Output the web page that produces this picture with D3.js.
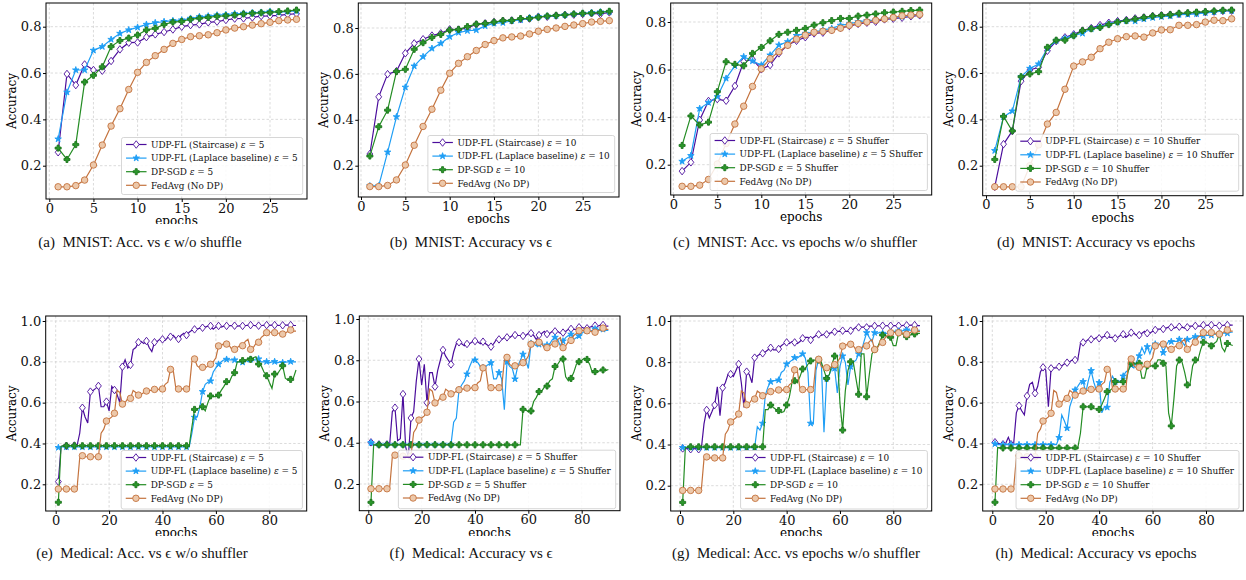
<!DOCTYPE html>
<html>
<head>
<meta charset="utf-8">
<script src="https://cdn.jsdelivr.net/npm/d3@7"></script>
<style>
  body { margin: 0; background: #fff; }
  svg { display: block; }
</style>
</head>
<body>
<svg id="chart" width="1246" height="580"></svg>
<script>
const mnistEpochs = d3.range(1, 29);
const medicalEpochs = d3.range(1, 91);

const mnistXTicks = [0, 5, 10, 15, 20, 25];
const medicalXTicks = [0, 20, 40, 60, 80];
const mnistYTicks = [0.2, 0.4, 0.6, 0.8];
const medicalYTicks = [0.2, 0.4, 0.6, 0.8, 1.0];

// MNIST, eps = 5, no shuffler
const stairA = [0.258,0.596,0.548,0.637,0.613,0.61,0.652,0.702,0.731,0.732,0.755,0.767,0.777,0.788,0.8,0.807,0.81,0.819,0.822,0.829,0.835,0.836,0.84,0.846,0.847,0.849,0.853,0.856];
const laplaceA = [0.315,0.517,0.613,0.613,0.698,0.714,0.745,0.771,0.786,0.797,0.81,0.817,0.822,0.826,0.829,0.836,0.843,0.846,0.85,0.852,0.856,0.858,0.86,0.862,0.866,0.862,0.866,0.868];
const sgdA = [0.276,0.227,0.291,0.561,0.59,0.627,0.714,0.74,0.751,0.764,0.786,0.793,0.81,0.82,0.823,0.832,0.837,0.84,0.845,0.847,0.85,0.855,0.858,0.86,0.862,0.865,0.868,0.872];
const fedMnist = [0.109,0.109,0.114,0.138,0.203,0.289,0.371,0.446,0.529,0.603,0.646,0.675,0.702,0.728,0.745,0.757,0.761,0.765,0.774,0.786,0.794,0.8,0.807,0.813,0.819,0.826,0.829,0.832];

// MNIST, eps = 10
const stairB = [0.251,0.5,0.599,0.612,0.69,0.733,0.751,0.767,0.777,0.794,0.793,0.8,0.815,0.82,0.826,0.831,0.833,0.838,0.841,0.849,0.849,0.854,0.857,0.858,0.861,0.864,0.861,0.868];
const laplaceB = [0.112,0.112,0.259,0.413,0.542,0.634,0.675,0.711,0.733,0.762,0.78,0.788,0.791,0.809,0.82,0.823,0.832,0.835,0.844,0.849,0.852,0.854,0.857,0.861,0.864,0.867,0.87,0.871];
const sgdB = [0.242,0.37,0.442,0.61,0.62,0.707,0.736,0.759,0.772,0.791,0.794,0.806,0.817,0.82,0.826,0.832,0.833,0.841,0.842,0.847,0.852,0.855,0.857,0.861,0.864,0.865,0.868,0.873];

// MNIST, eps = 5, shuffler
const stairC = [0.173,0.21,0.388,0.468,0.476,0.469,0.531,0.633,0.643,0.601,0.619,0.668,0.703,0.721,0.736,0.752,0.755,0.766,0.775,0.783,0.792,0.797,0.801,0.811,0.814,0.818,0.824,0.828];
const laplaceC = [0.214,0.238,0.436,0.461,0.486,0.563,0.615,0.654,0.636,0.619,0.661,0.703,0.717,0.743,0.752,0.758,0.766,0.773,0.786,0.792,0.801,0.806,0.808,0.814,0.818,0.822,0.828,0.832];
const sgdC = [0.281,0.405,0.367,0.379,0.507,0.633,0.622,0.616,0.668,0.693,0.721,0.748,0.757,0.765,0.773,0.787,0.797,0.806,0.815,0.815,0.825,0.829,0.834,0.839,0.842,0.845,0.848,0.85];

// MNIST, eps = 10, shuffler
const stairD = [0.109,0.293,0.35,0.565,0.613,0.625,0.696,0.738,0.754,0.767,0.783,0.794,0.807,0.817,0.824,0.829,0.836,0.84,0.846,0.849,0.852,0.855,0.858,0.86,0.863,0.865,0.868,0.869];
const laplaceD = [0.265,0.411,0.436,0.584,0.62,0.639,0.706,0.74,0.75,0.764,0.771,0.791,0.8,0.812,0.82,0.826,0.824,0.833,0.839,0.843,0.846,0.852,0.853,0.855,0.86,0.863,0.868,0.869];
const sgdD = [0.227,0.413,0.35,0.584,0.596,0.606,0.711,0.742,0.742,0.761,0.783,0.791,0.797,0.809,0.82,0.826,0.833,0.84,0.846,0.849,0.852,0.858,0.86,0.863,0.865,0.868,0.871,0.872];
const fedMnistD = [0.109,0.109,0.109,0.109,0.2,0.29,0.38,0.43,0.53,0.63,0.648,0.668,0.705,0.733,0.748,0.757,0.76,0.755,0.773,0.786,0.787,0.806,0.806,0.809,0.82,0.828,0.826,0.834];

// Medical, eps = 5, no shuffler
const stairE = [0.213,0.385,0.39,0.388,0.39,0.39,0.39,0.39,0.45,0.575,
  0.53,0.5,0.654,0.66,0.67,0.682,0.58,0.58,0.605,0.56,
  0.68,0.662,0.64,0.6,0.776,0.81,0.77,0.785,0.86,0.87,
  0.896,0.9,0.89,0.902,0.87,0.85,0.896,0.9,0.91,0.91,
  0.905,0.92,0.923,0.93,0.915,0.912,0.93,0.94,0.931,0.945,
  0.955,0.959,0.96,0.965,0.967,0.97,0.975,0.976,0.96,0.97,
  0.976,0.97,0.975,0.976,0.977,0.978,0.977,0.975,0.976,0.976,
  0.978,0.979,0.98,0.978,0.977,0.977,0.978,0.979,0.98,0.979,
  0.98,0.98,0.979,0.978,0.979,0.98,0.98,0.98,0.978,0.978];
const laplaceE = [0.38,0.383,0.383,0.383,0.383,0.383,0.383,0.383,0.383,0.383,
  0.383,0.383,0.383,0.383,0.383,0.383,0.383,0.383,0.383,0.383,
  0.383,0.383,0.383,0.383,0.383,0.383,0.383,0.383,0.383,0.383,
  0.383,0.383,0.383,0.383,0.383,0.383,0.383,0.383,0.383,0.383,
  0.383,0.383,0.383,0.383,0.383,0.383,0.383,0.383,0.383,0.383,
  0.45,0.528,0.53,0.58,0.654,0.69,0.7,0.706,0.75,0.77,
  0.788,0.8,0.81,0.812,0.81,0.81,0.809,0.8,0.8,0.798,
  0.81,0.8,0.812,0.81,0.81,0.814,0.8,0.8,0.801,0.795,
  0.8,0.801,0.795,0.8,0.796,0.798,0.8,0.801,0.8,0.8];
const sgdE = [0.112,0.385,0.389,0.389,0.389,0.389,0.389,0.389,0.389,0.389,
  0.389,0.389,0.389,0.389,0.389,0.389,0.389,0.389,0.389,0.389,
  0.389,0.389,0.389,0.389,0.389,0.389,0.389,0.389,0.389,0.389,
  0.389,0.389,0.389,0.389,0.389,0.389,0.389,0.389,0.389,0.389,
  0.389,0.389,0.389,0.389,0.389,0.389,0.389,0.389,0.389,0.389,
  0.48,0.567,0.57,0.575,0.58,0.56,0.6,0.633,0.63,0.63,
  0.637,0.66,0.68,0.703,0.7,0.73,0.747,0.8,0.8,0.806,
  0.8,0.82,0.812,0.82,0.825,0.789,0.78,0.75,0.732,0.7,
  0.67,0.74,0.74,0.76,0.781,0.72,0.71,0.714,0.72,0.76];
const fedMedical = [0.177,0.177,0.177,0.177,0.177,0.177,0.177,0.18,0.33,0.34,
  0.335,0.335,0.335,0.335,0.335,0.335,0.45,0.47,0.51,0.52,
  0.53,0.548,0.66,0.65,0.593,0.6,0.62,0.621,0.66,0.65,
  0.637,0.64,0.65,0.657,0.66,0.66,0.665,0.66,0.67,0.667,
  0.69,0.7,0.763,0.76,0.67,0.667,0.667,0.667,0.667,0.667,
  0.8,0.814,0.78,0.77,0.773,0.77,0.78,0.788,0.8,0.82,
  0.878,0.88,0.89,0.887,0.88,0.86,0.861,0.87,0.88,0.879,
  0.9,0.91,0.861,0.87,0.89,0.896,0.92,0.93,0.943,0.945,
  0.945,0.943,0.94,0.94,0.936,0.94,0.95,0.956,0.95,0.95];

// Medical, eps = 5, shuffler
const stairF = [0.402,0.39,0.39,0.392,0.39,0.39,0.392,0.39,0.55,0.57,
  0.41,0.42,0.636,0.38,0.33,0.52,0.55,0.7,0.806,0.68,
  0.78,0.594,0.74,0.74,0.672,0.75,0.8,0.85,0.82,0.8,
  0.78,0.84,0.88,0.887,0.88,0.87,0.879,0.88,0.89,0.893,
  0.89,0.88,0.89,0.88,0.87,0.866,0.88,0.9,0.901,0.9,
  0.91,0.911,0.91,0.92,0.922,0.92,0.92,0.918,0.92,0.93,
  0.931,0.92,0.9,0.922,0.93,0.94,0.927,0.93,0.94,0.94,
  0.94,0.93,0.934,0.94,0.95,0.952,0.95,0.95,0.96,0.96,
  0.955,0.955,0.96,0.965,0.968,0.965,0.97,0.971,0.965,0.965];
const laplaceF = [0.4,0.392,0.392,0.392,0.392,0.392,0.392,0.392,0.392,0.392,
  0.392,0.392,0.392,0.392,0.392,0.392,0.392,0.392,0.392,0.392,
  0.392,0.392,0.392,0.392,0.392,0.392,0.392,0.392,0.392,0.392,
  0.392,0.5,0.52,0.656,0.68,0.7,0.733,0.77,0.8,0.801,
  0.79,0.77,0.764,0.77,0.78,0.788,0.71,0.71,0.74,0.71,
  0.56,0.793,0.77,0.76,0.709,0.77,0.8,0.829,0.8,0.76,
  0.882,0.88,0.87,0.877,0.89,0.86,0.874,0.88,0.9,0.911,
  0.9,0.87,0.893,0.91,0.92,0.926,0.9,0.91,0.918,0.93,
  0.94,0.942,0.94,0.945,0.952,0.95,0.945,0.95,0.945,0.945];
const sgdF = [0.111,0.39,0.39,0.39,0.39,0.39,0.39,0.39,0.39,0.39,
  0.39,0.39,0.39,0.39,0.39,0.39,0.39,0.39,0.39,0.39,
  0.39,0.39,0.39,0.39,0.39,0.39,0.39,0.39,0.39,0.39,
  0.39,0.39,0.39,0.39,0.39,0.39,0.39,0.39,0.39,0.39,
  0.39,0.39,0.39,0.39,0.39,0.39,0.39,0.39,0.39,0.39,
  0.39,0.39,0.39,0.39,0.39,0.39,0.39,0.562,0.56,0.55,
  0.554,0.6,0.62,0.648,0.65,0.67,0.675,0.7,0.71,0.77,
  0.78,0.8,0.806,0.72,0.7,0.712,0.74,0.78,0.793,0.8,
  0.81,0.804,0.78,0.74,0.745,0.745,0.75,0.753,0.75,0.755];

// Medical, eps = 10, no shuffler
const stairG = [0.381,0.38,0.38,0.377,0.38,0.38,0.377,0.38,0.5,0.568,
  0.53,0.56,0.592,0.68,0.54,0.676,0.7,0.74,0.742,0.73,
  0.76,0.791,0.7,0.58,0.754,0.74,0.7,0.822,0.83,0.84,
  0.843,0.85,0.86,0.87,0.86,0.86,0.864,0.88,0.89,0.896,
  0.89,0.9,0.896,0.89,0.9,0.916,0.92,0.92,0.908,0.92,
  0.93,0.935,0.93,0.935,0.935,0.94,0.945,0.948,0.95,0.95,
  0.953,0.95,0.95,0.953,0.96,0.97,0.969,0.97,0.97,0.969,
  0.975,0.975,0.976,0.976,0.977,0.977,0.977,0.978,0.977,0.978,
  0.978,0.977,0.978,0.979,0.979,0.979,0.98,0.98,0.978,0.978];
const laplaceG = [0.385,0.385,0.385,0.385,0.385,0.385,0.385,0.385,0.385,0.385,
  0.385,0.385,0.385,0.385,0.385,0.385,0.385,0.385,0.385,0.385,
  0.385,0.385,0.385,0.385,0.385,0.385,0.385,0.385,0.486,0.47,
  0.503,0.64,0.68,0.705,0.71,0.71,0.713,0.75,0.76,0.791,
  0.8,0.81,0.822,0.82,0.83,0.84,0.82,0.75,0.503,0.5,
  0.76,0.814,0.8,0.46,0.721,0.74,0.77,0.77,0.65,0.78,
  0.83,0.8,0.69,0.778,0.8,0.81,0.84,0.85,0.9,0.943,
  0.92,0.9,0.943,0.94,0.945,0.94,0.94,0.94,0.943,0.95,
  0.95,0.951,0.95,0.955,0.956,0.955,0.955,0.956,0.955,0.955];
const sgdG = [0.119,0.385,0.389,0.389,0.389,0.389,0.389,0.389,0.389,0.389,
  0.389,0.389,0.389,0.389,0.389,0.389,0.389,0.389,0.389,0.389,
  0.389,0.389,0.389,0.389,0.389,0.389,0.389,0.389,0.389,0.389,
  0.389,0.57,0.57,0.592,0.58,0.57,0.565,0.555,0.56,0.592,
  0.63,0.7,0.71,0.7,0.73,0.767,0.77,0.79,0.806,0.81,
  0.81,0.81,0.8,0.76,0.721,0.74,0.79,0.83,0.83,0.6,
  0.47,0.66,0.76,0.802,0.8,0.72,0.644,0.84,0.84,0.632,
  0.74,0.84,0.862,0.87,0.9,0.932,0.93,0.92,0.921,0.88,
  0.88,0.943,0.945,0.93,0.924,0.93,0.935,0.937,0.94,0.94];

// Medical, eps = 10, shuffler
const stairH = [0.406,0.4,0.4,0.396,0.4,0.43,0.396,0.4,0.55,0.585,
  0.56,0.54,0.633,0.69,0.7,0.646,0.68,0.75,0.773,0.76,
  0.58,0.768,0.77,0.77,0.776,0.78,0.79,0.796,0.8,0.81,
  0.809,0.81,0.89,0.895,0.9,0.91,0.91,0.91,0.92,0.915,
  0.92,0.925,0.931,0.92,0.92,0.915,0.92,0.93,0.935,0.92,
  0.93,0.943,0.94,0.93,0.931,0.94,0.95,0.94,0.94,0.95,
  0.956,0.96,0.96,0.961,0.965,0.97,0.969,0.965,0.97,0.972,
  0.97,0.965,0.969,0.975,0.975,0.976,0.975,0.975,0.98,0.978,
  0.98,0.98,0.978,0.978,0.977,0.978,0.98,0.98,0.98,0.98];
const laplaceH = [0.398,0.394,0.394,0.394,0.394,0.394,0.394,0.394,0.394,0.394,
  0.394,0.394,0.394,0.394,0.394,0.394,0.394,0.394,0.394,0.394,
  0.394,0.394,0.394,0.394,0.429,0.54,0.51,0.475,0.58,0.62,
  0.662,0.68,0.7,0.703,0.65,0.71,0.757,0.7,0.66,0.698,
  0.55,0.58,0.577,0.7,0.73,0.703,0.71,0.7,0.73,0.75,
  0.76,0.784,0.77,0.8,0.829,0.87,0.84,0.874,0.84,0.88,
  0.887,0.88,0.89,0.845,0.88,0.9,0.899,0.9,0.9,0.91,
  0.9,0.88,0.91,0.91,0.92,0.923,0.925,0.925,0.927,0.93,
  0.93,0.931,0.935,0.935,0.936,0.94,0.94,0.94,0.945,0.945];
const sgdH = [0.112,0.38,0.378,0.378,0.378,0.378,0.378,0.378,0.378,0.378,
  0.378,0.378,0.378,0.378,0.378,0.378,0.378,0.378,0.378,0.378,
  0.378,0.378,0.378,0.378,0.378,0.378,0.378,0.378,0.378,0.378,
  0.378,0.378,0.45,0.58,0.58,0.58,0.58,0.57,0.57,0.567,
  0.59,0.62,0.654,0.66,0.67,0.703,0.7,0.7,0.703,0.7,
  0.76,0.793,0.79,0.79,0.793,0.72,0.72,0.78,0.78,0.78,
  0.78,0.81,0.81,0.793,0.78,0.55,0.486,0.62,0.78,0.809,
  0.8,0.75,0.687,0.69,0.78,0.809,0.81,0.86,0.896,0.895,
  0.89,0.878,0.89,0.9,0.936,0.87,0.85,0.89,0.885,0.88];

const labelsEps5 = ['UDP-FL (Staircase) ε = 5', 'UDP-FL (Laplace baseline) ε = 5', 'DP-SGD ε = 5', 'FedAvg (No DP)'];
const labelsEps10 = ['UDP-FL (Staircase) ε = 10', 'UDP-FL (Laplace baseline) ε = 10', 'DP-SGD ε = 10', 'FedAvg (No DP)'];
const labelsEps5Shuf = ['UDP-FL (Staircase) ε = 5 Shuffer', 'UDP-FL (Laplace baseline) ε = 5 Shuffer', 'DP-SGD ε = 5 Shuffer', 'FedAvg (No DP)'];
const labelsEps10Shuf = ['UDP-FL (Staircase) ε = 10 Shuffer', 'UDP-FL (Laplace baseline) ε = 10 Shuffer', 'DP-SGD ε = 10 Shuffer', 'FedAvg (No DP)'];

const captions = [
  '(a)  MNIST: Acc. vs ϵ w/o shuffle',
  '(b)  MNIST: Accuracy vs ϵ',
  '(c)  MNIST: Acc. vs epochs w/o shuffler',
  '(d)  MNIST: Accuracy vs epochs',
  '(e)  Medical: Acc. vs ϵ w/o shuffler',
  '(f)  Medical: Accuracy vs ϵ',
  '(g)  Medical: Acc. vs epochs w/o shuffler',
  '(h)  Medical: Accuracy vs epochs'
];

const SERIF = '"DejaVu Serif", serif';
const styles = [
  { color: '#4b0d9c', marker: 'diamond', fill: '#ffffff', stroke: '#4b0d9c', size: 7.5 },
  { color: '#1f9ef5', marker: 'star', fill: '#1f9ef5', stroke: '#1f9ef5', size: 6.5 },
  { color: '#238c23', marker: 'plus', fill: '#2b9a2b', stroke: '#1c741c', size: 6 },
  { color: '#c4733e', marker: 'circle', fill: '#ecc8aa', stroke: '#c4733e', size: 6.5 }
];

// layout of each sub-figure: axes box [left, right, top, bottom] and tick anchors
const panels = [
  { box: [46, 307, 3, 199], xa: [0, 49.3, 25, 270], ya: [0.2, 165.7, 0.8, 26.7], series: [stairA, laplaceA, sgdA, fedMnist], labels: labelsEps5, cap: 140 },
  { box: [358.3, 619, 3, 197], xa: [0, 361, 25, 582.7], ya: [0.2, 165.7, 0.8, 28], series: [stairB, laplaceB, sgdB, fedMnist], labels: labelsEps10, cap: 471 },
  { box: [670.7, 931.7, 3, 195], xa: [0, 673.3, 25, 893.3], ya: [0.2, 164.7, 0.8, 22], series: [stairC, laplaceC, sgdC, fedMnist], labels: labelsEps5Shuf, cap: 795 },
  { box: [982.7, 1243, 3, 195.7], xa: [0, 986, 25, 1205.3], ya: [0.2, 165.7, 0.8, 26.7], series: [stairD, laplaceD, sgdD, fedMnistD], labels: labelsEps10Shuf, cap: 1096 },
  { box: [45.7, 306.7, 316, 511], xa: [0, 55.7, 80, 269.3], ya: [0.2, 484.3, 1.0, 321], series: [stairE, laplaceE, sgdE, fedMedical], labels: labelsEps5, cap: 142 },
  { box: [359.3, 620, 316, 510.7], xa: [0, 368.3, 80, 581.7], ya: [0.2, 484, 1.0, 319], series: [stairF, laplaceF, sgdF, fedMedical], labels: labelsEps5Shuf, cap: 471 },
  { box: [670.7, 931.7, 316, 511], xa: [0, 680, 80, 893.3], ya: [0.2, 485.7, 1.0, 321], series: [stairG, laplaceG, sgdG, fedMedical], labels: labelsEps10, cap: 796 },
  { box: [982.7, 1243.3, 316, 511], xa: [0, 992.3, 80, 1206], ya: [0.2, 484.3, 1.0, 321], series: [stairH, laplaceH, sgdH, fedMedical], labels: labelsEps10Shuf, cap: 1096 }
];

const svg = d3.select('#chart');
const defs = svg.append('defs');

function markerPath(kind, s) {
  const a = s / 2;
  if (kind === 'diamond') {
    const w = a * 0.78;
    return `M0,${-a}L${w},0L0,${a}L${-w},0Z`;
  }
  if (kind === 'plus') {
    const b = a / 3;
    return `M${-b},${-a}L${b},${-a}L${b},${-b}L${a},${-b}L${a},${b}L${b},${b}L${b},${a}L${-b},${a}L${-b},${b}L${-a},${b}L${-a},${-b}L${-b},${-b}Z`;
  }
  if (kind === 'star') {
    const pts = d3.range(10).map(i => {
      const r = i % 2 === 0 ? a * 1.05 : a * 0.4;
      const ang = -Math.PI / 2 + i * Math.PI / 5;
      return [r * Math.cos(ang), r * Math.sin(ang)];
    });
    return 'M' + pts.map(p => p.join(',')).join('L') + 'Z';
  }
  return d3.arc()({ innerRadius: 0, outerRadius: a, startAngle: 0, endAngle: 2 * Math.PI });
}

function drawMarkers(g, pts, st) {
  g.selectAll(null).data(pts).join('path')
    .attr('transform', d => `translate(${d[0]},${d[1]})`)
    .attr('d', markerPath(st.marker, st.size))
    .attr('fill', st.fill)
    .attr('stroke', st.stroke)
    .attr('stroke-width', 0.9);
}

function labelText(sel, label) {
  const parts = label.split('ε');
  sel.append('tspan').text(parts[0]);
  if (parts.length > 1) {
    sel.append('tspan').attr('font-style', 'italic').text('ε');
    sel.append('tspan').text(parts[1]);
  }
}

panels.forEach((p, idx) => {
  const [L, R, T, B] = p.box;
  const medical = idx >= 4;
  const epochs = medical ? medicalEpochs : mnistEpochs;
  const every = medical ? 3 : 1;
  const xTicks = medical ? medicalXTicks : mnistXTicks;
  const yTicks = medical ? medicalYTicks : mnistYTicks;

  const x = d3.scaleLinear().domain([p.xa[0], p.xa[2]]).range([p.xa[1], p.xa[3]]);
  const y = d3.scaleLinear().domain([p.ya[0], p.ya[2]]).range([p.ya[1], p.ya[3]]);

  const clipId = 'clip' + idx;
  defs.append('clipPath').attr('id', clipId)
    .append('rect').attr('x', L).attr('y', T).attr('width', R - L).attr('height', B - T);

  const g = svg.append('g');

  // grid
  const grid = g.append('g').attr('stroke', '#d2d2d2').attr('stroke-width', 0.8).attr('stroke-dasharray', '2.5,2');
  grid.selectAll('.gx').data(xTicks).join('line')
    .attr('x1', d => x(d)).attr('x2', d => x(d)).attr('y1', T).attr('y2', B);
  grid.selectAll('.gy').data(yTicks).join('line')
    .attr('x1', L).attr('x2', R).attr('y1', d => y(d)).attr('y2', d => y(d));

  // series
  const plot = g.append('g').attr('clip-path', `url(#${clipId})`);
  const line = d3.line().x(d => x(d[0])).y(d => y(d[1]));
  p.series.forEach((vals, si) => {
    const st = styles[si];
    const pts = epochs.map((e, i) => [e, vals[i]]);
    plot.append('path').datum(pts)
      .attr('d', line)
      .attr('fill', 'none')
      .attr('stroke', st.color)
      .attr('stroke-width', 1.2);
    const mg = plot.append('g');
    drawMarkers(mg, pts.filter((d, i) => i % every === 0).map(d => [x(d[0]), y(d[1])]), st);
  });

  // frame
  g.append('rect').attr('x', L).attr('y', T).attr('width', R - L).attr('height', B - T)
    .attr('fill', 'none').attr('stroke', '#000').attr('stroke-width', 1);

  // axes
  const xAxis = g.append('g').attr('transform', `translate(0,${B})`)
    .call(d3.axisBottom(x).tickValues(xTicks).tickFormat(d3.format('d')).tickSize(3).tickPadding(1.5).tickSizeOuter(0));
  const yAxis = g.append('g').attr('transform', `translate(${L},0)`)
    .call(d3.axisLeft(y).tickValues(yTicks).tickFormat(d3.format('.1f')).tickSize(3).tickPadding(1.5).tickSizeOuter(0));
  [xAxis, yAxis].forEach(ax => {
    ax.attr('font-family', SERIF);
    ax.select('.domain').remove();
    ax.selectAll('text').style('font-family', SERIF).style('font-size', '13px').attr('fill', '#111');
  });

  // axis titles (xlabel is cropped by the sub-figure edge)
  const cropBottom = medical ? 536 : 224;
  defs.append('clipPath').attr('id', 'crop' + idx)
    .append('rect').attr('x', L - 60).attr('y', T - 10).attr('width', R - L + 80).attr('height', cropBottom - T + 10);
  g.append('g').attr('clip-path', `url(#crop${idx})`)
    .append('text')
    .attr('x', (L + R) / 2).attr('y', B + 26)
    .attr('text-anchor', 'middle')
    .style('font-family', SERIF).style('font-size', '12px')
    .text('epochs');
  g.append('text')
    .attr('transform', `translate(${L - 30},${(T + B) / 2}) rotate(-90)`)
    .attr('text-anchor', 'middle')
    .style('font-family', SERIF).style('font-size', '12px')
    .text('Accuracy');

  // legend (lower right)
  const lg = g.append('g');
  const box = lg.append('rect');
  const rowH = 13.6;
  const texts = [];
  p.labels.forEach((lab, i) => {
    const st = styles[i];
    const cy = 7 + i * rowH;
    lg.append('line').attr('x1', 4.5).attr('x2', 25).attr('y1', cy).attr('y2', cy)
      .attr('stroke', st.color).attr('stroke-width', 1.2);
    drawMarkers(lg.append('g'), [[14.7, cy]], st);
    const t = lg.append('text').attr('x', 29.5).attr('y', cy + 3.2)
      .style('font-family', SERIF).style('font-size', '8.9px').attr('fill', '#111');
    labelText(t, lab);
    texts.push(t);
  });
  const maxW = d3.max(texts, t => t.node().getComputedTextLength());
  const lw = 29.5 + maxW + 5;
  const lh = medical ? 58.5 : 57;
  box.attr('x', 0).attr('y', 0).attr('width', lw).attr('height', lh).attr('rx', 2)
    .attr('fill', '#fff').attr('fill-opacity', 0.85).attr('stroke', '#cccccc').attr('stroke-width', 0.8);
  lg.attr('transform', `translate(${R - 4.3 - lw},${B - (medical ? 2 : 4.5) - lh})`);

  // caption
  svg.append('text')
    .attr('x', p.cap).attr('y', medical ? 558 : 247)
    .attr('text-anchor', 'middle')
    .style('font-family', '"Liberation Serif", "DejaVu Serif", serif')
    .style('font-size', '15px').attr('fill', '#111')
    .style('white-space', 'pre')
    .text(captions[idx]);
});
</script>
</body>
</html>
